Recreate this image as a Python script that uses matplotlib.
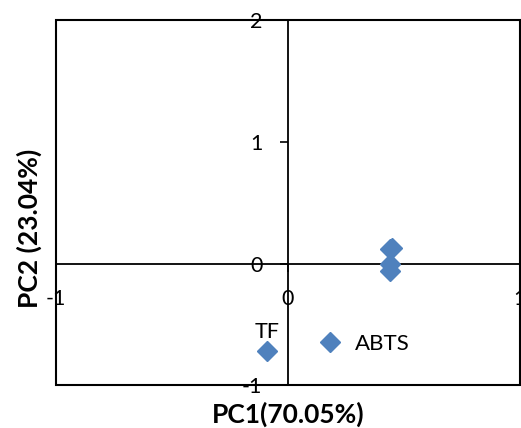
import matplotlib
matplotlib.use("Agg")
import matplotlib.pyplot as plt
from matplotlib.patches import Rectangle

# datos (PCA)
abts_x = [0.45, 0.44, 0.44, 0.44]
abts_y = [0.13, 0.12, 0.0, -0.06]
tf_x = [-0.09]
tf_y = [-0.72]
tf_label = "TF"
serie_nombre = "ABTS"

x_ticks = [-1, 0, 1]
y_ticks = [-1, 0, 1, 2]
x_titulo = "PC1(70.05%)"
y_titulo = "PC2 (23.04%)"

AZUL = "#4F81BD"

plt.rcParams['font.family'] = ['Lato', 'DejaVu Sans']

fig = plt.figure(figsize=(5.21, 4.28), dpi=100)
ax = fig.add_axes([0.1075, 0.0993, 0.8905, 0.854])

ax.plot(abts_x + tf_x, abts_y + tf_y, linestyle='none', marker='D',
        markersize=10.5, color=AZUL, label=serie_nombre, zorder=3)
ax.annotate(tf_label, (tf_x[0], tf_y[0]), xytext=(0, 7), textcoords='offset points',
            ha='center', va='bottom', fontsize=15.5)

ax.set_xlim(-1, 1)
ax.set_ylim(-1, 2)
ax.set_xticks(x_ticks)
ax.set_yticks(y_ticks)
ax.set_xticklabels([str(v) for v in x_ticks])
ax.set_yticklabels([str(v) for v in y_ticks])

# ejes en el cero (estilo Excel)
ax.spines['left'].set_position('zero')
ax.spines['bottom'].set_position('zero')
ax.spines['top'].set_visible(False)
ax.spines['right'].set_visible(False)
for s in ['left', 'bottom']:
    ax.spines[s].set_linewidth(1.3)
ax.add_patch(Rectangle((0, 0), 1, 1, transform=ax.transAxes, fill=False,
                       edgecolor='black', linewidth=1.5, clip_on=False, zorder=4))

ax.tick_params(axis='both', direction='out', length=5.5, width=1.2, labelsize=15.5, pad=13)

ax.set_xlabel(x_titulo, fontsize=19, fontweight='bold')
ax.set_ylabel(y_titulo, fontsize=19, fontweight='bold')
ax.xaxis.set_label_coords(0.5, -0.045)
ax.yaxis.set_label_coords(-0.03, 0.43)

ax.legend(loc='center left', bbox_to_anchor=(0.524, 0.113), frameon=False,
          fontsize=16, handletextpad=0.1, borderaxespad=0)

fig.savefig("out.png", dpi=100)
